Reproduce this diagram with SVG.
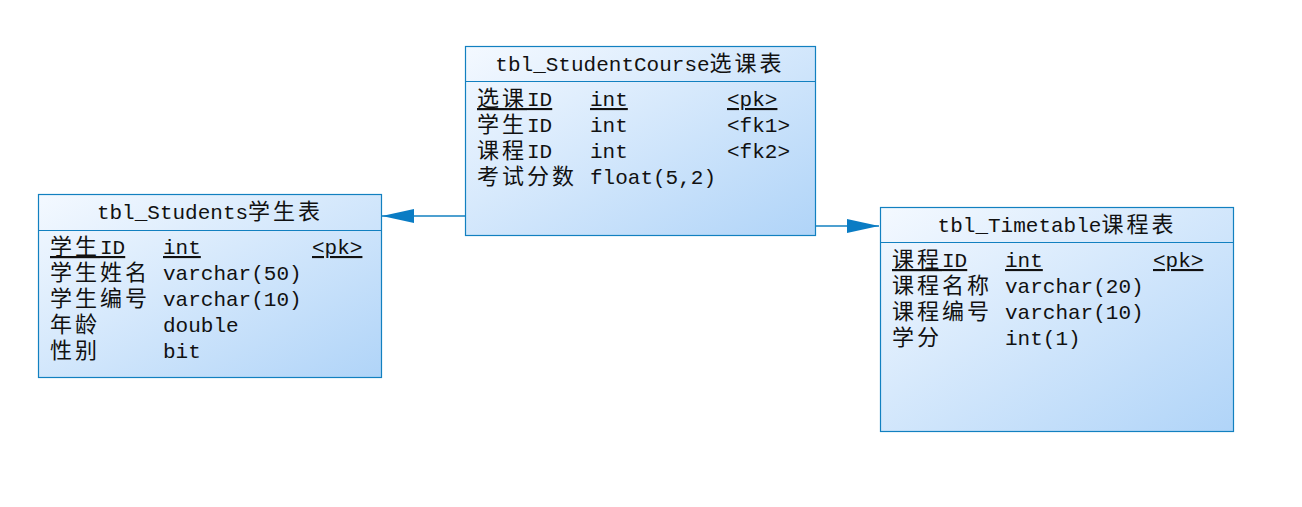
<svg xmlns="http://www.w3.org/2000/svg" width="1302" height="507" viewBox="0 0 1302 507">
<style>
.box{fill:url(#g);stroke:#1280c0;stroke-width:1.2}
.sep{stroke:#1280c0;stroke-width:1.2}
text{font-family:"Liberation Mono","Noto Sans CJK SC",monospace;font-size:21px;fill:#111}
.cj{font-size:22px;letter-spacing:3px}
.t{text-anchor:middle}
.u{text-decoration:underline}
.c{stroke:#1280c0;stroke-width:1.3;fill:none}
</style>
<defs>
<linearGradient id="g" x1="0" y1="0" x2="1" y2="1">
<stop offset="0" stop-color="#f4f9ff"/>
<stop offset="1" stop-color="#b0d4f8"/>
</linearGradient>
<marker id="a" markerWidth="34" markerHeight="16" refX="32" refY="8" orient="auto" markerUnits="userSpaceOnUse">
<path d="M0,1 L32,8 L0,15 Z" fill="#0a7cc4"/>
</marker>
</defs>
<rect width="1302" height="507" fill="#fff"/>
<g id="connectors">
<line class="c" x1="465" y1="216" x2="382" y2="216" marker-end="url(#a)"/>
<line class="c" x1="815" y1="226" x2="879" y2="226" marker-end="url(#a)"/>
</g>
<g id="tbl_StudentCourse">
<rect class="box" x="465.5" y="46.5" width="350" height="189"/>
<line class="sep" x1="465.5" y1="81.5" x2="815.5" y2="81.5"/>
<text class="t" x="640" y="71">tbl_StudentCourse<tspan class="cj">选课表</tspan></text>
<text class="u" x="477" y="106"><tspan class="cj">选课</tspan>ID</text><text class="u" x="590" y="106">int</text><text class="u" x="727" y="106">&lt;pk&gt;</text>
<text x="477" y="132"><tspan class="cj">学生</tspan>ID</text><text x="590" y="132">int</text><text x="727" y="132">&lt;fk1&gt;</text>
<text x="477" y="158"><tspan class="cj">课程</tspan>ID</text><text x="590" y="158">int</text><text x="727" y="158">&lt;fk2&gt;</text>
<text x="477" y="184"><tspan class="cj">考试分数</tspan></text><text x="590" y="184">float(5,2)</text>
</g>
<g id="tbl_Students">
<rect class="box" x="38.5" y="194.5" width="343" height="183"/>
<line class="sep" x1="38.5" y1="230.5" x2="381.5" y2="230.5"/>
<text class="t" x="210" y="219">tbl_Students<tspan class="cj">学生表</tspan></text>
<text class="u" x="50" y="254"><tspan class="cj">学生</tspan>ID</text><text class="u" x="163" y="254">int</text><text class="u" x="312" y="254">&lt;pk&gt;</text>
<text x="50" y="280"><tspan class="cj">学生姓名</tspan></text><text x="163" y="280">varchar(50)</text>
<text x="50" y="306"><tspan class="cj">学生编号</tspan></text><text x="163" y="306">varchar(10)</text>
<text x="50" y="332"><tspan class="cj">年龄</tspan></text><text x="163" y="332">double</text>
<text x="50" y="358"><tspan class="cj">性别</tspan></text><text x="163" y="358">bit</text>
</g>
<g id="tbl_Timetable">
<rect class="box" x="880.5" y="207.5" width="353" height="224"/>
<line class="sep" x1="880.5" y1="242.5" x2="1233.5" y2="242.5"/>
<text class="t" x="1057" y="232">tbl_Timetable<tspan class="cj">课程表</tspan></text>
<text class="u" x="892" y="267"><tspan class="cj">课程</tspan>ID</text><text class="u" x="1005" y="267">int</text><text class="u" x="1153" y="267">&lt;pk&gt;</text>
<text x="892" y="293"><tspan class="cj">课程名称</tspan></text><text x="1005" y="293">varchar(20)</text>
<text x="892" y="319"><tspan class="cj">课程编号</tspan></text><text x="1005" y="319">varchar(10)</text>
<text x="892" y="345"><tspan class="cj">学分</tspan></text><text x="1005" y="345">int(1)</text>
</g>
</svg>
